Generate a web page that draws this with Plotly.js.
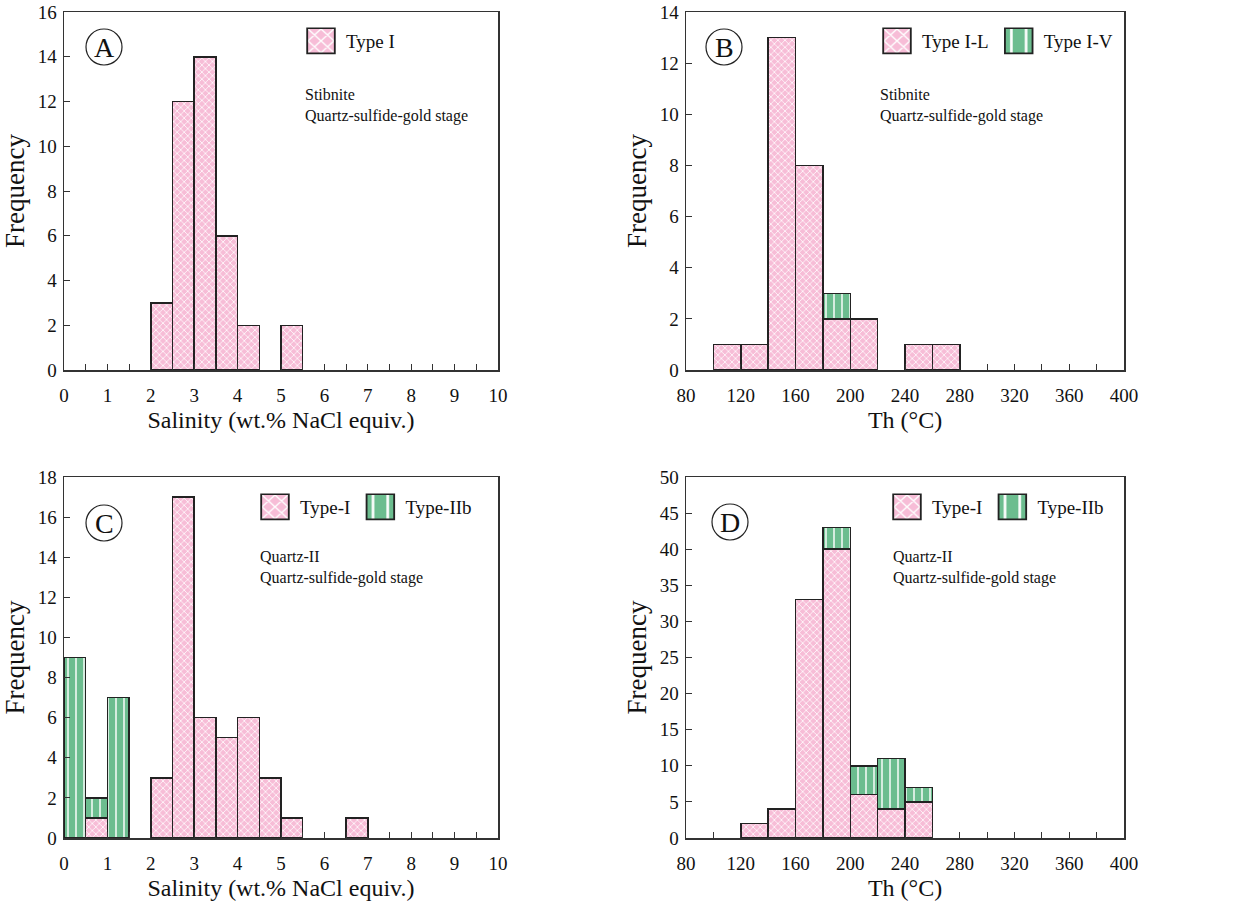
<!DOCTYPE html>
<html>
<head>
<meta charset="utf-8">
<script src="https://cdn.plot.ly/plotly-3.0.1.min.js"></script>
<style>html,body{margin:0;padding:0;background:#fff;}#chart{width:1233px;height:906px;}</style>
</head>
<body>
<div id="chart"></div>
<script>
// ---------- DATA ----------
// Panel A: salinity, stibnite (bin left edges, width 0.5)
const aBins = [2, 2.5, 3, 3.5, 4, 5];
const aTypeI = [3, 12, 14, 6, 2, 2];

// Panel B: Th, stibnite (bin left edges, width 20)
const bBinsL = [100, 120, 140, 160, 180, 200, 240, 260];
const bTypeIL = [1, 1, 13, 8, 2, 2, 1, 1];
const bBinsV = [180];
const bTypeIV = [1];

// Panel C: salinity, quartz-II
const cBinsI = [0.5, 2, 2.5, 3, 3.5, 4, 4.5, 5, 6.5];
const cTypeI = [1, 3, 17, 6, 5, 6, 3, 1, 1];
const cBinsIIb = [0, 0.5, 1];
const cTypeIIb = [9, 1, 7];

// Panel D: Th, quartz-II
const dBinsI = [120, 140, 160, 180, 200, 220, 240];
const dTypeI = [2, 4, 33, 40, 6, 4, 5];
const dBinsIIb = [180, 200, 220, 240];
const dTypeIIb = [3, 4, 7, 2];

const salTicks = [0,1,2,3,4,5,6,7,8,9,10];
const thTicks = [80,120,160,200,240,280,320,360,400];

// ---------- STYLE ----------
const W = 1233, H = 906;
const FONT = 'Liberation Serif, Times New Roman, serif';
const pinkPat = {shape: 'x', bgcolor: '#f7bdd7', fgcolor: '#ffffff', size: 5, solidity: 0.28, fillmode: 'replace'};
const greenPat = {shape: '|', bgcolor: '#6cbd8f', fgcolor: '#ffffff', size: 8, solidity: 0.18, fillmode: 'replace'};
const line = {color: '#222', width: 1.5};

function px(x) { return x / W; }
function py(y) { return 1 - y / H; }

function bar(x, y, w, name, pat, xa, ya, leg) {
  return {type: 'bar', x: x, y: y, width: w, offset: 0, name: name,
    xaxis: xa, yaxis: ya, legend: leg, showlegend: true,
    marker: {color: pat.bgcolor, pattern: pat, line: line}};
}

const traces = [
  bar(aBins, aTypeI, 0.5, 'Type I', pinkPat, 'x', 'y', 'legend'),
  bar(bBinsL, bTypeIL, 20, 'Type I-L', pinkPat, 'x2', 'y2', 'legend2'),
  bar(bBinsV, bTypeIV, 20, 'Type I-V', greenPat, 'x2', 'y2', 'legend2'),
  bar(cBinsI, cTypeI, 0.5, 'Type-I', pinkPat, 'x3', 'y3', 'legend3'),
  bar(cBinsIIb, cTypeIIb, 0.5, 'Type-IIb', greenPat, 'x3', 'y3', 'legend3'),
  bar(dBinsI, dTypeI, 20, 'Type-I', pinkPat, 'x4', 'y4', 'legend4'),
  bar(dBinsIIb, dTypeIIb, 20, 'Type-IIb', greenPat, 'x4', 'y4', 'legend4')
];

function xax(dom, anchor, range, ticks, minor, title) {
  return {domain: dom, anchor: anchor, range: range, tickvals: ticks, ticks: 'inside', ticklen: 6,
    tickcolor: '#333', linecolor: '#333', linewidth: 1.5, mirror: true, showline: true, showgrid: false,
    zeroline: false, automargin: false, ticklabelstandoff: 8,
    tickfont: {family: FONT, size: 19, color: '#111'},
    minor: {dtick: minor, tick0: 0, ticks: 'inside', ticklen: 6, tickcolor: '#333', showgrid: false},
    title: {text: title, font: {family: FONT, size: 24, color: '#111'}, standoff: 6}};
}
function yax(dom, anchor, range, dtick) {
  return {domain: dom, anchor: anchor, range: range, dtick: dtick, tick0: 0, ticks: 'inside', ticklen: 6,
    tickcolor: '#333', linecolor: '#333', linewidth: 1.5, mirror: true, showline: true, showgrid: false,
    zeroline: false, automargin: false, ticklabelstandoff: 2,
    tickfont: {family: FONT, size: 19, color: '#111'},
    title: {text: 'Frequency', font: {family: FONT, size: 27, color: '#111'}, standoff: 5}};
}

const topY = [py(370), py(12)];
const botY = [py(838), py(477)];
const leftX = [px(64), px(498)];
const rightX = [px(686), px(1124)];

function legend(x, y) {
  return {x: px(x), y: py(y), xanchor: 'left', yanchor: 'top', orientation: 'h',
    traceorder: 'normal',
    bgcolor: 'rgba(0,0,0,0)', font: {family: FONT, size: 19, color: '#111'},
    itemwidth: 40, tracegroupgap: 0, itemclick: false};
}

function circleLetter(cx, cy, letter) {
  const r = 18;
  return {
    shape: {type: 'circle', xref: 'paper', yref: 'paper',
      x0: px(cx - r), x1: px(cx + r), y0: py(cy + r), y1: py(cy - r),
      line: {color: '#222', width: 1.2}, fillcolor: 'rgba(0,0,0,0)'},
    ann: {xref: 'paper', yref: 'paper', x: px(cx), y: py(cy), text: letter, showarrow: false,
      xanchor: 'center', yanchor: 'middle', font: {family: FONT, size: 28, color: '#111'}}
  };
}
function note(x, y, t) {
  return {xref: 'paper', yref: 'paper', x: px(x), y: py(y), text: t, showarrow: false, align: 'left',
    xanchor: 'left', yanchor: 'top', font: {family: FONT, size: 16, color: '#111'}};
}

const circles = [circleLetter(104, 47, 'A'), circleLetter(724, 47, 'B'),
                 circleLetter(104, 523, 'C'), circleLetter(730, 522, 'D')];

const layout = {
  width: W, height: H, margin: {l: 0, r: 0, t: 0, b: 0},
  paper_bgcolor: '#fff', plot_bgcolor: '#fff', barmode: 'stack',
  font: {family: FONT},
  xaxis: xax(leftX, 'y', [0, 10], salTicks, 0.5, 'Salinity (wt.% NaCl equiv.)'),
  yaxis: yax(topY, 'x', [0, 16], 2),
  xaxis2: xax(rightX, 'y2', [80, 400], thTicks, 20, 'Th (°C)'),
  yaxis2: yax(topY, 'x2', [0, 14], 2),
  xaxis3: xax(leftX, 'y3', [0, 10], salTicks, 0.5, 'Salinity (wt.% NaCl equiv.)'),
  yaxis3: yax(botY, 'x3', [0, 18], 2),
  xaxis4: xax(rightX, 'y4', [80, 400], thTicks, 20, 'Th (°C)'),
  yaxis4: yax(botY, 'x4', [0, 50], 5),
  legend: legend(296, 22),
  legend2: legend(872, 22),
  legend3: legend(250, 488),
  legend4: legend(882, 488),
  shapes: circles.map(c => c.shape),
  annotations: circles.map(c => c.ann).concat([
    note(303, 84, 'Stibnite<br>Quartz-sulfide-gold stage'),
    note(878, 84, 'Stibnite<br>Quartz-sulfide-gold stage'),
    note(258, 546, 'Quartz-II<br>Quartz-sulfide-gold stage'),
    note(891, 546, 'Quartz-II<br>Quartz-sulfide-gold stage')
  ])
};

Plotly.newPlot('chart', traces, layout, {displayModeBar: false, staticPlot: true}).then(function () {
  // enlarge legend swatches to match the boxed keys of the original figure
  document.querySelectorAll('.legendpoints path').forEach(function (p) {
    const t = p.getAttribute('transform') || '';
    p.setAttribute('transform', t + ' scale(2.3,2.1)');
    p.style.strokeWidth = '0.8px';
  });
});
</script>
</body>
</html>
